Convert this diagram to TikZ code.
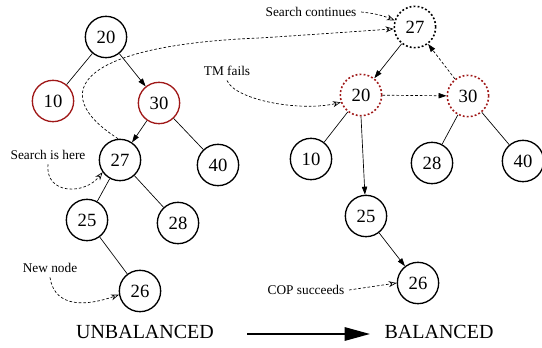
\documentclass[tikz,border=0pt]{standalone}
\usepackage{fontspec}
\setmainfont{Liberation Serif}
\newfontfamily\treefont{Liberation Serif}
\usetikzlibrary{arrows.meta}

\definecolor{rotred}{RGB}{160,25,25}

\begin{document}
\begin{tikzpicture}[x=0.75pt,y=-0.75pt,
	every node/.style={font=\treefont},
	key/.style={circle, draw, line width=1pt, minimum size=31pt, inner sep=0pt, font=\treefont\fontsize{14}{16}\selectfont},
	rot/.style={key, draw=rotred},
	moved/.style={dash pattern=on 1.4pt off 1.6pt, line width=1.2pt},
	tree/.style={line width=0.5pt},
	link/.style={tree, -{Triangle[length=6pt,width=4pt]}},
	note/.style={font=\treefont\fontsize{10}{12}\selectfont},
	hint/.style={line width=0.5pt, dash pattern=on 2pt off 1.5pt, -{Stealth[open,length=6pt,width=4.5pt]}}]
	\useasboundingbox (0,0) rectangle (542,348);
	% tree before the rotation
	\node[key] (l20) at (106,37) {20};
	\node[rot] (l10) at (53,101) {10};
	\node[rot] (l30) at (159,103) {30};
	\node[key] (l27) at (120,160) {27};
	\node[key] (l40) at (218,165) {40};
	\node[key] (l25) at (87,220) {25};
	\node[key] (l28) at (178,223) {28};
	\node[key] (l26) at (140,291) {26};
	\draw[tree] (l20) -- (l10);
	\draw[link] (l20) -- (l30);
	\draw[link] (l30) -- (l27);
	\draw[tree] (l30) -- (l40);
	\draw[tree] (l27) -- (l25);
	\draw[tree] (l27) -- (l28);
	\draw[tree] (l25) -- (l26);
	% tree after the rotation
	\node[key, moved] (r27) at (415,27) {27};
	\node[rot, moved] (r20) at (361,95) {20};
	\node[rot, moved] (r30) at (468,96) {30};
	\node[key] (r10) at (311,159) {10};
	\node[key] (r28) at (432,163) {28};
	\node[key] (r40) at (523,161) {40};
	\node[key] (r25) at (366,216) {25};
	\node[key] (r26) at (418,283) {26};
	\draw[link] (r27) -- (r20);
	\draw[link, dash pattern=on 2pt off 1.5pt] (r20) -- (r30);
	\draw[link, dash pattern=on 2pt off 1.5pt] (r30) -- (r27);
	\draw[tree] (r20) -- (r10);
	\draw[link] (r20.south) -- (r25);
	\draw[tree] (r30) -- (r28);
	\draw[tree] (r30) -- (r40);
	\draw[link] (r25) -- (r26);
	% labels
	\node[note] (cont) at (311,12) {Search continues};
	\node[note] (fails) at (227,71) {TM fails};
	\node[note] (here) at (48,155) {Search is here};
	\node[note] (new) at (50,268) {New node};
	\node[note] (cop) at (306,290) {COP succeeds};
	\draw[hint] (cont.east) to[bend left=8] (r27.162);
	\draw[hint] (l27.95) .. controls (45,92) and (80,45) .. (260,38) .. controls (320,34) .. (r27.185);
	\draw[hint] (fails.south) .. controls (235,100) and (300,112) .. (r20.200);
	\draw[hint] (here.south) .. controls (45,195) and (85,195) .. (l27.215);
	\draw[hint] (new.south) .. controls (55,310) and (90,305) .. (l26.190);
	\draw[hint] (cop.east) -- (r26.180);
	% before / after
	\node[font=\treefont\fontsize{15}{18}\selectfont] (unbal) at (145,332) {UNBALANCED};
	\node[font=\treefont\fontsize{15}{18}\selectfont] (bal) at (439,332) {BALANCED};
	\draw[line width=1.5pt, -{Triangle[length=19pt,width=10pt]}] (247,334) -- (370,334);
\end{tikzpicture}
\end{document}
